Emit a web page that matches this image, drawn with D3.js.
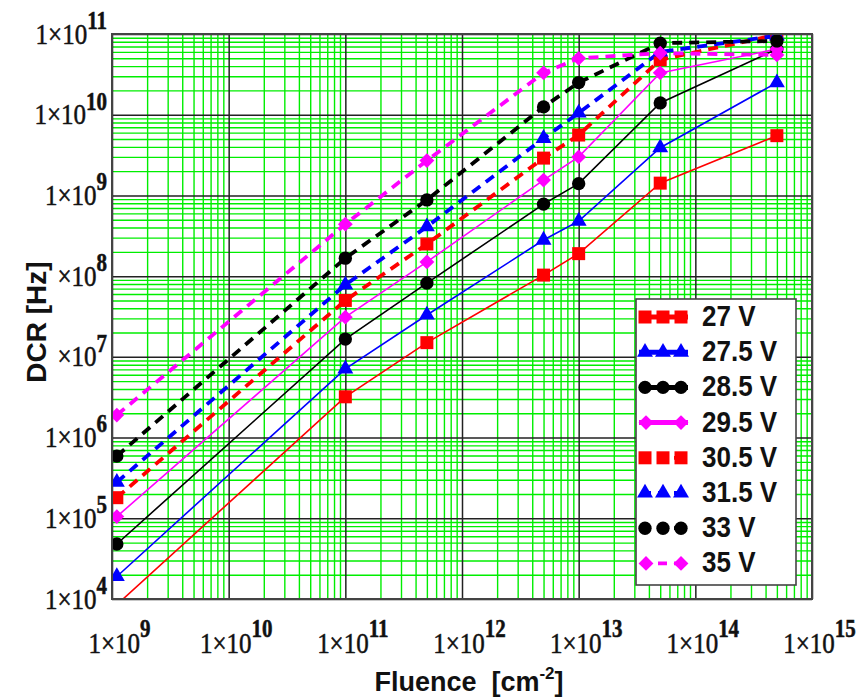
<!DOCTYPE html>
<html>
<head>
<meta charset="utf-8">
<script src="https://cdn.jsdelivr.net/npm/d3@7"></script>
<style>
  html, body { margin: 0; padding: 0; background: #fff; }
  svg { display: block; }
</style>
</head>
<body>
<svg id="chart" width="862" height="698"></svg>
<script>
// ---------- data ----------
const fluence = [1.1e9, 1e11, 5e11, 5e12, 1e13, 5e13, 5e14];
const seriesNames = ["27 V", "27.5 V", "28.5 V", "29.5 V", "30.5 V", "31.5 V", "33 V", "35 V"];
const dcr27   = [8.5e3, 3.2e6, 1.5e7, 1.03e8, 1.9e8, 1.42e9, 5.5e9];
const dcr27_5 = [1.9e4, 7.1e6, 3.3e7, 2.8e8, 4.8e8, 3.9e9, 2.5e10];
const dcr28_5 = [4.8e4, 1.66e7, 8.2e7, 7.8e8, 1.4e9, 1.4e10, 6.5e10];
const dcr29_5 = [1.05e5, 3.1e7, 1.5e8, 1.55e9, 3.0e9, 3.3e10, 6.5e10];
const dcr30_5 = [1.8e5, 5.0e7, 2.5e8, 2.9e9, 5.6e9, 4.8e10, 9.8e10];
const dcr31_5 = [2.8e5, 7.8e7, 4.1e8, 5.1e9, 1.05e10, 6.0e10, 9.5e10];
const dcr33   = [5.9e5, 1.67e8, 8.8e8, 1.25e10, 2.5e10, 7.7e10, 8.2e10];
const dcr35   = [1.9e6, 4.4e8, 2.7e9, 3.3e10, 5.0e10, 5.8e10, 5.5e10];
const xTickExps = [9, 10, 11, 12, 13, 14, 15];
const yTickExps = [4, 5, 6, 7, 8, 9, 10, 11];

// ---------- styles ----------
const seriesValues = [dcr27, dcr27_5, dcr28_5, dcr29_5, dcr30_5, dcr31_5, dcr33, dcr35];
const colors  = ["#ff0000", "#0000ff", "#000000", "#ff00ff", "#ff0000", "#0000ff", "#000000", "#ff00ff"];
const shapes  = ["square", "triangle", "circle", "diamond", "square", "triangle", "circle", "diamond"];
const dashed  = [false, false, false, false, true, true, true, true];

const svg = d3.select("#chart");
const L = 112, R = 812, T = 34, B = 599;
const x = d3.scaleLog().domain([1e9, 1e15]).range([L, R]);
const y = d3.scaleLog().domain([1e4, 1e11]).range([B, T]);

svg.append("defs").append("clipPath").attr("id", "plotclip")
  .append("rect").attr("x", L).attr("y", T).attr("width", R - L).attr("height", B - T);

// ---------- grid ----------
const minorX = [], minorY = [];
for (let e = 9; e < 15; e++) for (let m = 2; m <= 9; m++) minorX.push(m * Math.pow(10, e));
for (let e = 4; e < 11; e++) for (let m = 2; m <= 9; m++) minorY.push(m * Math.pow(10, e));

const grid = svg.append("g");
grid.append("g").attr("transform", `translate(0,${B})`)
  .call(d3.axisBottom(x).tickValues(minorX).tickSize(-(B - T)).tickFormat(""))
  .call(g => g.select(".domain").remove())
  .call(g => g.selectAll("line").attr("stroke", "#00ee00").attr("stroke-width", 1.4));
grid.append("g").attr("transform", `translate(${L},0)`)
  .call(d3.axisLeft(y).tickValues(minorY).tickSize(-(R - L)).tickFormat(""))
  .call(g => g.select(".domain").remove())
  .call(g => g.selectAll("line").attr("stroke", "#00ee00").attr("stroke-width", 1.4));

// major grid
grid.append("g").attr("transform", `translate(0,${B})`)
  .call(d3.axisBottom(x).tickValues(xTickExps.map(e => Math.pow(10, e))).tickSize(-(B - T)).tickFormat(""))
  .call(g => g.select(".domain").remove())
  .call(g => g.selectAll("line").attr("stroke", "#222").attr("stroke-width", 1.5));
grid.append("g").attr("transform", `translate(${L},0)`)
  .call(d3.axisLeft(y).tickValues(yTickExps.map(e => Math.pow(10, e))).tickSize(-(R - L)).tickFormat(""))
  .call(g => g.select(".domain").remove())
  .call(g => g.selectAll("line").attr("stroke", "#222").attr("stroke-width", 1.5));

// ---------- tick labels ----------
const serif = "'Liberation Serif','Times New Roman',serif";
const xAx = svg.append("g").attr("transform", `translate(0,${B})`)
  .call(d3.axisBottom(x).tickValues(xTickExps.map(e => Math.pow(10, e))).tickSize(0).tickFormat(""));
xAx.select(".domain").remove();
xAx.selectAll(".tick").each(function(d) {
  const e = Math.round(Math.log10(d));
  const t = d3.select(this).append("text")
    .attr("transform", "translate(7,54) scale(1,1.22)")
    .attr("text-anchor", "middle").attr("fill", "#111")
    .attr("stroke", "#111").attr("stroke-width", 0.45)
    .style("font-family", serif).style("font-size", "25px");
  t.append("tspan").text("1\u00d710");
  t.append("tspan").attr("dy", -13).style("font-size", "21px").style("font-weight", "bold").text(e);
});

const yAx = svg.append("g").attr("transform", `translate(${L},0)`)
  .call(d3.axisLeft(y).tickValues(yTickExps.map(e => Math.pow(10, e))).tickSize(0).tickFormat(""));
yAx.select(".domain").remove();
yAx.selectAll(".tick").each(function(d) {
  const e = Math.round(Math.log10(d));
  const t = d3.select(this).append("text")
    .attr("transform", "translate(-5,9) scale(1,1.22)")
    .attr("text-anchor", "end").attr("fill", "#111")
    .attr("stroke", "#111").attr("stroke-width", 0.45)
    .style("font-family", serif).style("font-size", "25px");
  t.append("tspan").text("1\u00d710");
  t.append("tspan").attr("dy", -12).style("font-size", "21px").style("font-weight", "bold").text(e);
});

// ---------- series ----------
const sym = {
  square: d3.symbol().type(d3.symbolSquare).size(169),
  circle: d3.symbol().type(d3.symbolCircle).size(140),
  triangle: d3.symbol().type(d3.symbolTriangle).size(110),
  diamond: d3.symbol().type(d3.symbolSquare).size(110)
};
const line = d3.line().x(d => x(d[0])).y(d => y(d[1]));
const plot = svg.append("g").attr("clip-path", "url(#plotclip)");

seriesValues.forEach((vals, i) => {
  plot.append("path")
    .datum(fluence.map((f, k) => [f, vals[k]]))
    .attr("d", line).attr("fill", "none")
    .attr("stroke", colors[i])
    .attr("stroke-width", dashed[i] ? 3.8 : 1.6)
    .attr("stroke-dasharray", dashed[i] ? "10,7" : null);
});
seriesValues.forEach((vals, i) => {
  plot.append("g").selectAll("path")
    .data(fluence.map((f, k) => [f, vals[k]]))
    .join("path")
    .attr("d", sym[shapes[i]])
    .attr("transform", d => `translate(${x(d[0])},${y(d[1])})` + (shapes[i] === "diamond" ? " rotate(45)" : ""))
    .attr("fill", colors[i]);
});

// ---------- frame ----------
svg.append("rect").attr("x", L).attr("y", T).attr("width", R - L).attr("height", B - T)
  .attr("fill", "none").attr("stroke", "#444").attr("stroke-width", 2);

// ---------- legend ----------
const lg = svg.append("g");
lg.append("rect").attr("x", 636).attr("y", 299).attr("width", 160).attr("height", 286)
  .attr("fill", "#fff").attr("stroke", "#444").attr("stroke-width", 1.6);
seriesNames.forEach((name, i) => {
  const cy = 317 + i * 35.2;
  const g = lg.append("g");
  g.append("line").attr("x1", 639).attr("x2", 688).attr("y1", cy).attr("y2", cy)
    .attr("stroke", colors[i])
    .attr("stroke-width", dashed[i] ? 3.8 : 5)
    .attr("stroke-dasharray", dashed[i] ? "9,7" : null)
    .attr("stroke-dashoffset", dashed[i] ? -3 : 0);
  const xs = shapes[i] === "diamond" ? [646, 681] : [645, 663, 681];
  xs.forEach(px => {
    g.append("path").attr("d", sym[shapes[i]])
      .attr("transform", `translate(${px},${cy})` + (shapes[i] === "diamond" ? " rotate(45)" : ""))
      .attr("fill", colors[i]);
  });
  g.append("text").attr("transform", `translate(702,${cy + 9}) scale(1,1.1)`)
    .attr("fill", "#111")
    .style("font-family", "'Liberation Sans',Arial,sans-serif")
    .style("font-size", "26px").style("font-weight", "bold")
    .text(name);
});

// ---------- axis titles ----------
const sans = "'Liberation Sans',Arial,sans-serif";
svg.append("rect").attr("x", 14).attr("y", 250).attr("width", 44).attr("height", 145).attr("fill", "#fff");
svg.append("text")
  .attr("transform", "translate(46,322) rotate(-90)")
  .attr("text-anchor", "middle").attr("fill", "#111")
  .style("font-family", sans).style("font-size", "28px").style("font-weight", "bold")
  .text("DCR [Hz]");

const xt = svg.append("text")
  .attr("x", 469).attr("y", 691)
  .attr("text-anchor", "middle").attr("fill", "#111")
  .style("font-family", sans).style("font-size", "27px").style("font-weight", "bold");
xt.append("tspan").text("Fluence\u00a0\u00a0[cm");
xt.append("tspan").attr("dy", -12).style("font-size", "17px").text("-2");
xt.append("tspan").attr("dy", 12).text("]");
</script>
</body>
</html>
